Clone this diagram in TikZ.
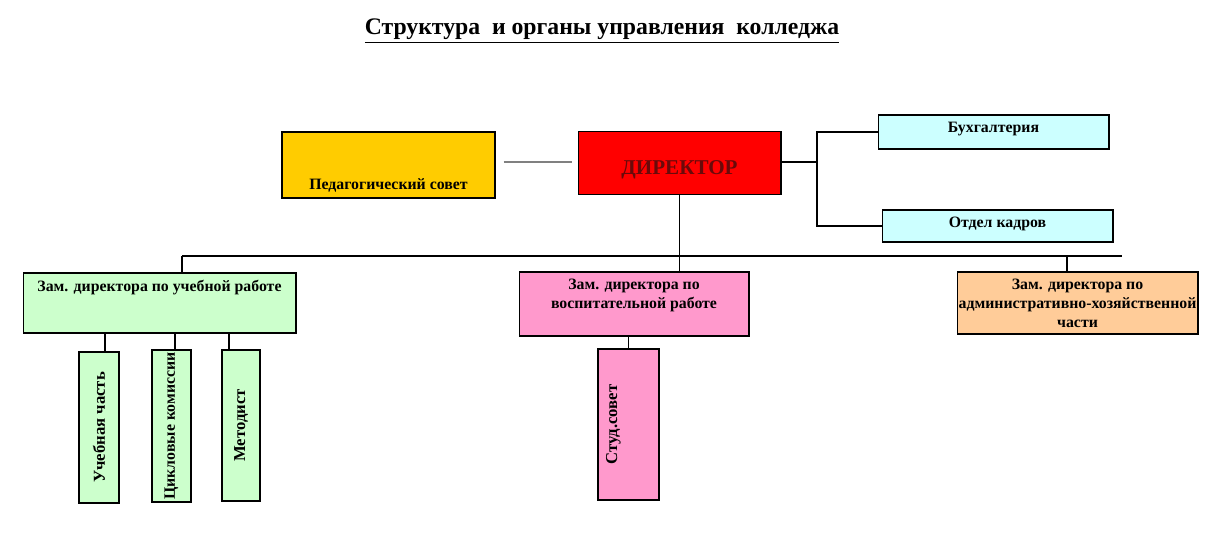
\documentclass[tikz,border=0pt]{standalone}
\usepackage{fontspec}
\setmainfont{Liberation Serif}
\usepackage{xcolor}
\usetikzlibrary{positioning, calc}

\definecolor{pedyellow}{HTML}{FFCC00}
\definecolor{dirred}{HTML}{FF0000}
\definecolor{dirtext}{HTML}{6A0A0A}
\definecolor{lightcyan}{HTML}{CCFFFF}
\definecolor{lightgreen}{HTML}{CCFFCC}
\definecolor{lightpink}{HTML}{FF99CC}
\definecolor{lightpeach}{HTML}{FFCC99}

\begin{document}
\begin{tikzpicture}[
    x=0.02cm, y=-0.02cm,
    box/.style={rectangle, draw=black, line width=0.6pt, inner sep=1pt, align=center,
        font=\fontsize{9}{11}\selectfont\bfseries},
    toptext/.style={label={[anchor=north, align=center, inner sep=1pt, yshift=-3pt,
        font=\fontsize{9}{11}\selectfont\bfseries]north:#1}},
    bottomtext/.style={label={[anchor=south, align=center, inner sep=1pt, yshift=2.5pt,
        font=\fontsize{9}{11}\selectfont\bfseries]south:#1}},
    vbox/.style={box, font=\fontsize{9.5}{11}\selectfont\bfseries},
    link/.style={draw=black, line width=0.6pt}
]

% frame
\useasboundingbox (0,0) rectangle (1212,543);

% Title
\node[font=\fontsize{13.5}{16}\selectfont\bfseries] (title) at (602,31)
    {\underline{Структура\ \ и органы управления\ \ колледжа}};

% Top row
\node[box, fill=pedyellow, minimum width=4.26cm, minimum height=1.32cm,
    bottomtext={Педагогический совет}] (ped) at (388.5,165) {};
\node[box, fill=dirred, minimum width=4.06cm, minimum height=1.26cm,
    label={[yshift=-4pt, text=dirtext, font=\fontsize{12}{14}\selectfont\bfseries]center:ДИРЕКТОР}] (dir) at (679.5,163) {};
\node[box, fill=lightcyan, minimum width=4.62cm, minimum height=0.68cm,
    toptext={Бухгалтерия}] (buh) at (993.5,132) {};
\node[box, fill=lightcyan, minimum width=4.62cm, minimum height=0.64cm,
    toptext={Отдел кадров}] (kadr) at (997.5,226) {};

% Deputies
\node[box, fill=lightgreen, minimum width=5.46cm, minimum height=1.2cm,
    toptext={Зам. директора по учебной работе}] (zur) at (159.5,303) {};
\node[box, fill=lightpink, minimum width=4.6cm, minimum height=1.28cm,
    toptext={Зам. директора по\\воспитательной работе}] (zvr) at (634,304) {};
\node[box, fill=lightpeach, minimum width=4.82cm, minimum height=1.24cm,
    toptext={Зам. директора по\\административно-хозяйственной\\части}] (zah) at (1077.5,303) {};

% Departments
\node[vbox, fill=lightgreen, minimum width=0.8cm, minimum height=3.02cm] (uch) at (99,427.5)
    {\rotatebox{90}{Учебная часть}};
\node[vbox, fill=lightgreen, minimum width=0.78cm, minimum height=3.04cm, inner sep=0pt,
    font=\fontsize{9}{11}\selectfont\bfseries] (cikl) at (171.5,426)
    {\rotatebox{90}{Цикловые комиссии}};
\node[vbox, fill=lightgreen, minimum width=0.76cm, minimum height=3.02cm] (met) at (241,425.5)
    {\rotatebox{90}{Методист}};
\node[vbox, fill=lightpink, minimum width=1.22cm, minimum height=3.02cm] (stud) at (628.5,424.5)
    {\rotatebox{90}{Студ.совет}\hspace{0.6cm}};

% Bus points
\coordinate (fork) at (817,162);
\coordinate (busL) at (182,256);
\coordinate (busR) at (1122,256);
\coordinate (dropR) at (1067,256);

% Lines
\draw[draw=gray, line width=1pt, shorten <=0.16cm, shorten >=0.12cm] (ped.east |- fork) -- (dir.west |- fork);
\draw[link] (dir.east |- fork) -- (fork);
\draw[link] (fork) |- (buh.west);
\draw[link] (fork) |- (kadr.west);
\draw[link] (dir.south) -- (dir.south |- busL);
\draw[link] (busL) -- (busR);
\draw[link] (busL) -- (busL |- zur.north);
\draw[link] (dir.south |- busL) -- (dir.south |- zvr.north);
\draw[link] (dropR) -- (dropR |- zah.north);
\draw[link] ([xshift=0.12cm]uch.north) -- ([xshift=0.12cm]uch.north |- zur.south);
\draw[link] ([xshift=0.07cm]cikl.north) -- ([xshift=0.07cm]cikl.north |- zur.south);
\draw[link] ([xshift=-0.24cm]met.north) -- ([xshift=-0.24cm]met.north |- zur.south);
\draw[link] (stud.north) -- (stud.north |- zvr.south);

\end{tikzpicture}
\end{document}
